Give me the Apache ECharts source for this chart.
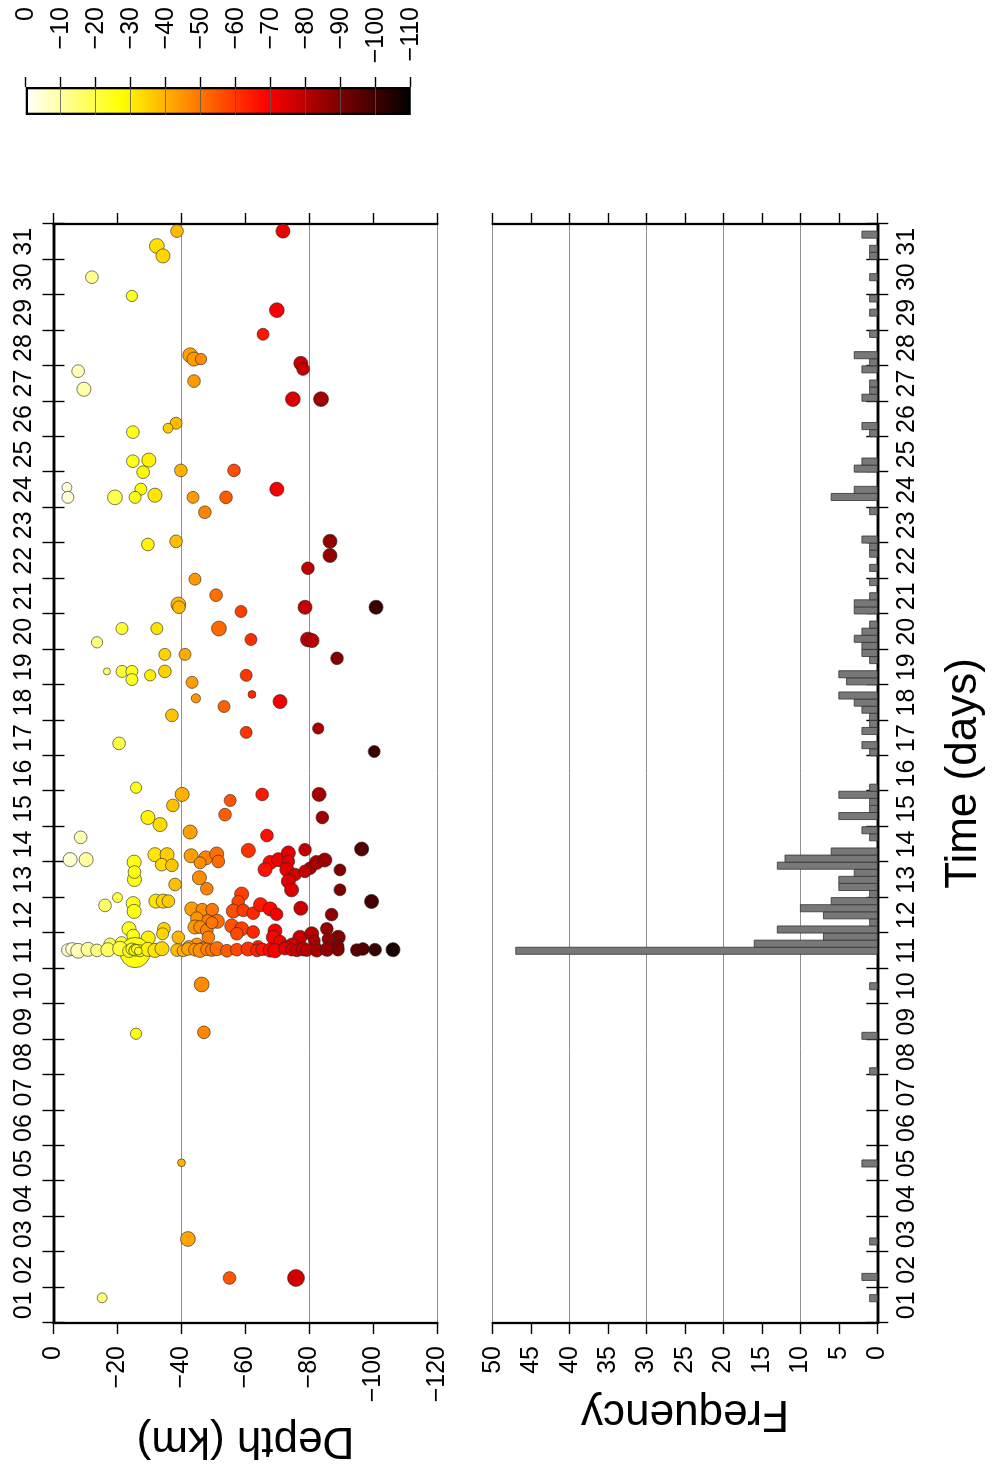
<!DOCTYPE html>
<html>
<head>
<meta charset="utf-8">
<title>Depth and frequency against time</title>
<script src="https://cdn.jsdelivr.net/npm/echarts@6/dist/echarts.min.js"></script>
<style>
  html, body { margin: 0; padding: 0; background: #fff; }
  body { width: 995px; height: 1479px; overflow: hidden; position: relative; }
  /* the figure is laid out landscape and turned a quarter turn left, like the printed page */
  #chart {
    position: absolute; left: 0; top: 0; width: 1479px; height: 995px;
    transform-origin: 0 0; transform: translate(0, 1479px) rotate(-90deg);
  }
</style>
</head>
<body>
<div id="chart"></div>
<script>
const dayLabels = ['01','02','03','04','05','06','07','08','09','10','11','12','13','14','15','16',
  '17','18','19','20','21','22','23','24','25','26','27','28','29','30','31']
const cbLevels = [0, -10, -20, -30, -40, -50, -60, -70, -80, -90, -100, -110]

// events: day of month, depth (km), magnitude
const eqDay = [
  31.80,31.80,31.38,31.10,30.50,29.97,29.57,28.89,28.30,28.19,
  28.19,28.07,27.91,27.85,27.57,27.34,27.06,27.06,26.38,26.24,
  26.13,25.31,25.34,25.00,25.05,25.05,24.57,24.29,24.29,24.52,
  24.29,24.35,24.29,24.29,24.52,23.87,22.96,23.05,23.05,22.65,
  22.29,21.98,21.53,21.27,21.19,21.07,21.19,21.19,20.59,20.20,
  20.59,20.59,20.28,20.28,20.25,19.86,19.86,19.75,19.38,19.38,
  19.38,19.15,19.38,19.27,19.07,19.27,18.62,18.73,18.53,18.39,
  18.14,17.77,17.66,17.35,17.12,16.10,15.91,15.91,15.91,15.74,
  15.60,15.26,15.34,15.06,15.26,14.85,14.75,14.70,
  // swarm
  14.07,14.07,14.00,14.21,14.21,13.93,13.91,14.18,14.12,14.23,
  14.02,13.98,14.33,13.99,14.07,14.26,14.02,13.79,13.79,13.65,
  13.46,13.22,14.35,13.83,13.74,13.99,14.06,13.78,13.22,14.37,
  13.51,13.72,13.37,13.56,13.25,12.78,13.00,12.83,12.61,12.90,
  12.90,12.90,12.68,12.66,12.66,12.42,12.35,12.33,13.10,12.88,
  12.62,12.64,12.56,12.80,12.68,12.53,12.70,12.52,12.89,12.12,
  11.93,11.86,12.12,11.98,11.88,12.17,12.17,12.08,12.29,11.88,
  12.20,12.12,11.98,12.03,12.06,11.88,11.76,11.88,11.98,12.12,
  11.88,11.83,11.78,
  11.68,11.72,11.68,11.68,11.60,11.62,11.62,11.58,11.62,11.62,
  11.45,
  11.52,11.55,11.50,11.54,11.51,11.53,11.56,11.49,11.55,11.52,
  11.50,11.54,11.51,11.56,11.52,11.50,11.55,11.53,11.51,11.54,
  11.52,11.56,11.50,11.53,11.55,11.51,11.54,11.52,11.50,11.56,
  11.53,11.51,11.55,11.52,11.50,11.54,11.53,11.52,11.55,11.53,11.53,
  11.50,11.55,11.49,
  // before the swarm
  10.55,9.16,9.20,5.52,3.37,2.27,2.27,1.71
]
const eqDepth = [
  -38.6,-71.7,-32.3,-34.2,-12.0,-24.5,-69.8,-65.5,-42.7,-43.9,
  -46.1,-77.3,-78.0,-7.7,-43.9,-9.5,-74.8,-83.6,-38.3,-35.8,
  -24.8,-24.8,-29.8,-28.0,-39.8,-56.4,-4.2,-4.5,-19.2,-27.3,
  -25.5,-31.7,-43.6,-53.9,-69.8,-47.3,-29.5,-38.3,-86.4,-86.4,
  -79.5,-44.2,-50.8,-39.0,-39.2,-58.6,-78.6,-100.8,-21.4,-13.6,
  -32.3,-51.7,-61.7,-79.5,-80.8,-34.8,-41.1,-88.6,-21.4,-16.7,
  -24.5,-24.5,-34.8,-30.2,-43.3,-60.2,-44.5,-62.0,-70.8,-53.3,
  -37.0,-82.7,-60.2,-20.5,-100.2,-25.8,-40.2,-65.2,-83.0,-55.2,
  -37.3,-29.5,-53.6,-33.3,-84.0,-42.7,-66.7,-8.5,
  -5.2,-10.2,-25.2,-31.7,-35.5,-33.8,-37.0,-43.0,-47.6,-51.0,
  -51.5,-45.8,-60.9,-67.7,-70.3,-73.4,-73.4,-66.1,-72.9,-75.5,
  -73.4,-74.4,-78.6,-80.2,-78.6,-82.2,-84.8,-89.5,-89.5,-96.3,
  -25.3,-25.3,-38.0,-45.6,-47.9,-16.1,-20.0,-24.9,-25.2,-32.0,
  -34.3,-35.9,-43.2,-46.5,-49.6,-44.8,-48.2,-51.2,-58.8,-57.7,
  -56.2,-59.3,-62.4,-64.7,-67.7,-69.7,-77.3,-86.9,-99.4,-23.6,
  -24.9,-29.6,-34.5,-34.1,-39.0,-44.2,-45.8,-47.9,-49.5,-48.4,
  -55.7,-58.8,-57.3,-62.4,-69.2,-68.7,-70.8,-77.0,-80.7,-85.4,
  -89.0,-85.9,-81.5,
  -17.7,-21.3,-44.8,-74.5,-81.7,-88.8,-42.3,-46.7,-63.9,-72.9,
  -25.5,
  -4.5,-5.8,-7.7,-10.8,-13.6,-17.0,-20.8,-23.6,-24.5,-25.5,
  -27.0,-29.5,-31.7,-33.9,-38.6,-40.5,-42.0,-44.2,-45.8,-48.0,
  -49.5,-51.1,-54.2,-57.3,-60.8,-63.6,-65.2,-67.7,-69.2,-72.3,
  -74.5,-76.1,-78.0,-79.2,-82.3,-85.5,-88.9,-94.8,-96.7,-100.5,-106.1,
  -25.0,-25.8,-26.5,
  -46.3,-25.8,-47.0,-40.0,-42.0,-55.0,-75.8,-15.2
]
const eqMag = [
  2.1,2.3,2.4,2.3,2.1,1.9,2.4,2.0,2.4,2.3,
  1.9,2.3,2.1,2.1,2.1,2.3,2.4,2.4,2.0,1.7,
  2.1,2.1,2.3,2.1,2.1,2.1,1.7,2.0,2.4,2.0,
  2.0,2.3,2.0,2.1,2.3,2.1,2.1,2.1,2.3,2.3,
  2.1,2.0,2.1,2.4,2.1,2.0,2.3,2.3,2.0,1.9,
  2.0,2.4,2.0,2.4,2.3,2.0,2.0,2.1,2.0,1.3,
  2.0,2.0,2.1,1.9,2.0,2.0,1.6,1.4,2.3,2.0,
  2.1,1.9,2.0,2.1,2.0,1.9,2.3,2.1,2.3,2.0,
  2.1,2.3,2.1,2.3,2.1,2.3,2.1,2.1,
  2.3,2.3,2.3,2.3,2.3,2.1,2.1,2.3,2.3,2.3,
  2.1,2.0,2.3,2.3,2.3,2.3,2.1,2.3,2.3,2.1,
  2.3,2.3,2.1,2.1,2.1,2.3,2.3,2.0,2.0,2.3,
  2.3,2.1,2.1,2.3,2.1,2.1,1.7,2.3,2.3,2.3,
  2.3,2.1,2.3,2.1,2.1,2.1,2.0,2.3,2.3,2.1,
  2.3,2.1,2.1,2.3,2.3,2.1,2.3,2.1,2.3,2.3,
  2.1,2.3,2.1,2.0,2.1,2.3,2.1,2.1,2.0,2.1,
  2.3,2.3,2.1,2.1,2.3,2.3,2.1,2.3,2.3,2.1,
  2.3,2.1,2.0,
  2.1,2.1,2.1,2.1,2.1,2.1,2.0,2.0,2.0,2.0,
  4.6,
  2.1,2.1,2.4,2.3,2.1,2.3,2.4,2.1,2.0,2.0,
  2.0,2.3,2.3,2.3,2.1,2.0,2.1,2.1,2.3,2.1,
  2.1,2.3,2.1,2.1,2.3,2.1,2.1,2.3,2.3,2.1,
  2.1,2.1,2.3,2.1,2.1,2.3,2.1,2.1,2.1,2.1,2.3,
  1.6,1.6,1.4,
  2.4,1.9,2.1,1.4,2.4,2.1,2.7,1.7
]

// histogram: bin start (day) and count, bins of 0.2 day
const binWidth = 0.2
const binStart = [1.6,2.2,3.2,5.4,8.0,9.0,10.4,
  11.4,11.6,11.8,12.0,12.2,12.4,12.6,12.8,13.0,13.2,13.4,13.6,13.8,14.0,14.2,
  14.6,14.8,15.2,15.4,15.6,15.8,16.0,17.0,17.2,17.6,17.8,18.0,18.2,18.4,18.6,
  19.0,19.2,19.6,19.8,20.0,20.2,20.4,20.6,21.0,21.2,21.4,21.8,22.2,22.6,22.8,23.0,
  23.8,24.2,24.4,25.0,25.2,26.0,26.2,27.0,27.2,27.4,27.8,28.0,28.2,28.8,29.4,29.8,
  30.4,31.0,31.2,31.6]
const binCount = [1,2,1,2,1,2,1,
  47,16,7,13,1,7,10,6,1,5,5,3,13,12,6,
  1,2,5,1,1,5,1,1,2,2,1,1,2,3,5,
  4,5,1,2,2,3,2,1,3,3,1,1,1,1,1,2,
  1,6,3,3,2,1,2,2,1,1,2,1,3,1,1,1,
  1,1,1,2]

// "hot" palette, deep (black) to shallow (white)
const hotColors = ['#000000','#550000','#aa0000','#ff0000','#ff5500','#ffaa00','#ffff00','#ffff80','#ffffff']

const FONT = 'Liberation Sans'
const minus = v => (v === 0 ? '0' : '\u2212' + Math.abs(v))
const frameLine = { show: true, lineStyle: { color: '#000', width: 2.3 } }
const outTick = { show: true, inside: false, length: 11, lineStyle: { color: '#000', width: 1.4 } }
const tickFont = { fontFamily: FONT, fontSize: 25, color: '#000' }
const nameFont = { fontFamily: FONT, fontSize: 44, color: '#000' }
const off = { show: false }

function timeAxis(grid, pos) {
  return { type: 'value', gridIndex: grid, position: pos, min: 1, max: 32, interval: 1,
    axisLine: frameLine, axisTick: outTick, axisLabel: off, splitLine: off }
}
function dayLabelAxis(grid, pos, extra) {
  return Object.assign({ type: 'category', gridIndex: grid, position: pos, data: dayLabels,
    boundaryGap: true, axisLine: off, axisTick: off, splitLine: off,
    axisLabel: Object.assign({ margin: 17, interval: 0 }, tickFont) }, extra)
}
function valAxis(grid, pos, min, max, step, extra) {
  return Object.assign({ type: 'value', gridIndex: grid, position: pos, min, max, interval: step,
    axisLine: frameLine, axisTick: outTick, axisLabel: off, splitLine: off }, extra)
}
function gridLines(grid, min, max, step) {
  return { type: 'value', gridIndex: grid, position: 'right', min, max, interval: step,
    axisLine: off, axisTick: off, axisLabel: off,
    splitLine: { show: true, lineStyle: { color: '#8f8f8f', width: 1 } } }
}

const chart = echarts.init(document.getElementById('chart'), null, { renderer: 'canvas' })

chart.setOption({
  animation: false,
  backgroundColor: '#fff',
  textStyle: { fontFamily: FONT },
  grid: [
    { left: 156, top: 53.5, width: 1099, height: 384, outerBoundsMode: 'none' },
    { left: 156, top: 492.7, width: 1099, height: 384.6, outerBoundsMode: 'none' },
    { left: 1364, top: 25.7, width: 28, height: 385, outerBoundsMode: 'none' }
  ],
  xAxis: [
    timeAxis(0, 'top'),
    dayLabelAxis(0, 'top'),
    timeAxis(0, 'bottom'),
    timeAxis(1, 'bottom'),
    dayLabelAxis(1, 'bottom', { name: 'Time (days)', nameLocation: 'middle', nameGap: 65, nameTextStyle: nameFont }),
    timeAxis(1, 'top'),
    { type: 'category', gridIndex: 2, data: ['cb'], show: false }
  ],
  yAxis: [
    valAxis(0, 'left', -120, 0, 20, {
      axisLabel: Object.assign({ margin: 23, formatter: minus }, tickFont),
      name: 'Depth (km)', nameLocation: 'middle', nameGap: 95, nameTextStyle: nameFont
    }),
    valAxis(0, 'right', -120, 0, 20),
    gridLines(0, -120, 0, 40),
    valAxis(1, 'left', 0, 50, 5, {
      axisLabel: Object.assign({ margin: 23 }, tickFont),
      name: 'Frequency', nameLocation: 'middle', nameGap: 68, nameTextStyle: nameFont
    }),
    valAxis(1, 'right', 0, 50, 5),
    gridLines(1, 0, 50, 10),
    {
      type: 'value', gridIndex: 2, position: 'right', min: cbLevels[cbLevels.length - 1], max: 0, interval: 10,
      axisLine: off, splitLine: off,
      axisTick: { show: true, inside: false, length: 10, lineStyle: { color: '#000', width: 1.4 } },
      axisLabel: Object.assign({ margin: 80, align: 'right', formatter: minus }, tickFont)
    }
  ],
  visualMap: {
    type: 'continuous', show: false, seriesIndex: 0, dimension: 1,
    min: cbLevels[cbLevels.length - 1], max: 0,
    inRange: { color: hotColors }
  },
  series: [
    {
      type: 'scatter',
      xAxisIndex: 0, yAxisIndex: 0,
      data: eqDay.map((d, i) => [d, eqDepth[i], eqMag[i]]),
      symbol: 'circle',
      symbolSize: v => v[2] * 7 - 2,
      itemStyle: { borderColor: '#222', borderWidth: 0.6, opacity: 1 },
      emphasis: { disabled: true }
    },
    {
      type: 'custom',
      xAxisIndex: 3, yAxisIndex: 3,
      data: binStart.map((s, i) => [s, binCount[i]]),
      encode: { x: 0, y: 1 },
      renderItem(params, api) {
        const a = api.coord([api.value(0), 0])
        const b = api.coord([api.value(0) + binWidth, api.value(1)])
        return {
          type: 'rect',
          shape: { x: a[0], y: b[1], width: b[0] - a[0], height: a[1] - b[1] },
          style: { fill: '#787878', stroke: '#333', lineWidth: 0.8 }
        }
      }
    },
    {
      type: 'bar',
      xAxisIndex: 6, yAxisIndex: 6,
      data: [cbLevels[cbLevels.length - 1]],
      barWidth: '100%',
      silent: true,
      itemStyle: {
        borderColor: '#000', borderWidth: 2.3,
        color: new echarts.graphic.LinearGradient(0, 0, 0, 1,
          hotColors.slice().reverse().map((c, i, arr) => ({ offset: i / (arr.length - 1), color: c })))
      },
      markLine: {
        silent: true, symbol: 'none', label: off,
        lineStyle: { color: '#555', width: 0.8, type: 'solid' },
        data: cbLevels.slice(1, -1).map(v => ({ yAxis: v }))
      }
    }
  ]
})
</script>
</body>
</html>
